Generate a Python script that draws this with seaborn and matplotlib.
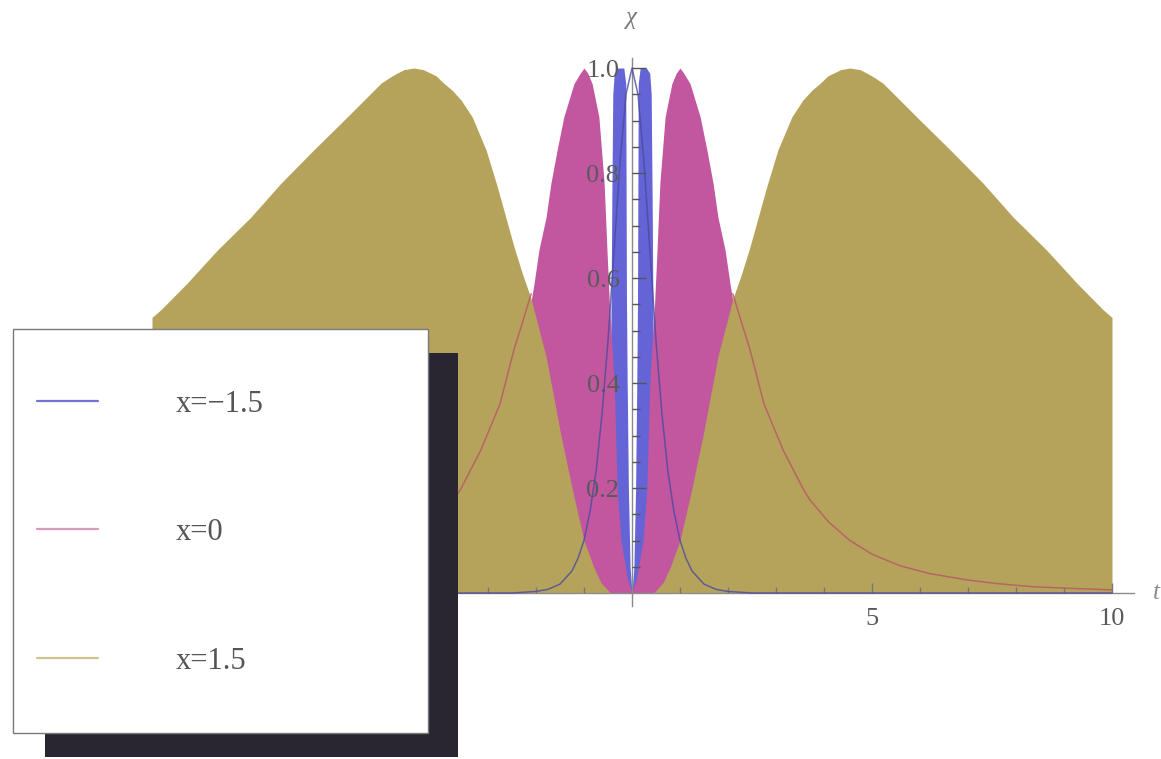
import numpy as np
import pandas as pd
import matplotlib
matplotlib.use("Agg")
import matplotlib.pyplot as plt
from matplotlib.lines import Line2D
from matplotlib.patches import Rectangle
from matplotlib.ticker import FixedLocator
import seaborn as sns

# ---- data: profiles are symmetric in t, listed for t >= 0 ----
# x = 1.5 (olive) filled envelope
olive_t = [0.0, 0.45, 0.65, 0.8, 1.0, 1.25, 1.48, 1.79, 2.1, 2.29, 2.46, 2.63, 2.81,
           3.04, 3.33, 3.56, 3.75, 3.92, 4.08, 4.19, 4.35, 4.54, 4.75, 4.9, 5.05,
           5.23, 5.93, 6.63, 7.31, 7.94, 8.64, 9.27, 9.81, 10.0]
olive_env = [0.0, 0.0, 0.02, 0.05, 0.1, 0.2, 0.3, 0.45, 0.56, 0.61, 0.66, 0.716, 0.775,
             0.844, 0.907, 0.939, 0.958, 0.971, 0.985, 0.99, 0.997, 1.0, 0.997, 0.99, 0.982,
             0.971, 0.907, 0.844, 0.781, 0.716, 0.653, 0.59, 0.54, 0.525]

# x = 0 (pink) filled envelope
pink_t = [0.0, 0.1, 0.23, 0.31, 0.37, 0.47, 0.52, 0.58, 0.69, 0.83, 0.92, 1.0, 1.08,
          1.21, 1.42, 1.56, 1.69, 1.79, 1.94, 2.04, 2.15, 2.5, 3.0, 4.0, 5.0, 7.0, 10.0]
pink_env = [0.0, 0.03, 0.1, 0.2, 0.4, 0.55, 0.65, 0.78, 0.907, 0.97, 0.99, 1.0, 0.99,
            0.97, 0.907, 0.844, 0.78, 0.716, 0.653, 0.59, 0.53, 0.4, 0.25, 0.1, 0.04, 0.01, 0.0]

# x = -1.5 (blue) filled envelope
blue_t = [0.0, 0.04, 0.075, 0.1, 0.115, 0.13, 0.17, 0.3, 0.37, 0.4, 0.42, 0.44,
          0.5, 0.6, 0.8, 10.0]
blue_env = [0.0, 0.05, 0.2, 0.4, 0.56, 0.97, 1.0, 1.0, 0.99, 0.95, 0.75, 0.5,
            0.3, 0.1, 0.0, 0.0]

# thin profile curves
blue_line_t = [0.0, 0.125, 0.25, 0.375, 0.5, 0.625, 0.75, 0.875, 1.0, 1.125, 1.25,
               1.5, 1.75, 2.0, 2.5, 3.0, 10.0]
blue_line = [1.0, 0.95, 0.82, 0.65, 0.48, 0.34, 0.23, 0.155, 0.10, 0.066, 0.042,
             0.017, 0.007, 0.003, 0.0, 0.0, 0.0]
pink_line_t = [2.1, 2.3, 2.46, 2.75, 3.15, 3.58, 3.71, 4.1, 4.54, 5.0, 5.58, 6.2,
               6.98, 7.6, 8.35, 9.1, 10.0]
pink_line = [0.57, 0.51, 0.463, 0.36, 0.272, 0.196, 0.177, 0.135, 0.10, 0.074, 0.052,
             0.037, 0.025, 0.018, 0.012, 0.009, 0.006]

labels = ["x=\u22121.5", "x=0", "x=1.5"]
x_major = [-10, -5, 5, 10]
x_major_labels = ["\u221210", "\u22125", "5", "10"]
y_major = [0.2, 0.4, 0.6, 0.8, 1.0]
y_major_labels = ["0.2", "0.4", "0.6", "0.8", "1.0"]


def mirrored(t, v):
    t = np.asarray(t, float)
    v = np.asarray(v, float)
    return np.concatenate([-t[::-1], t[1:]]), np.concatenate([v[::-1], v[1:]])


sns.set_theme(style="white")
plt.rcParams["font.family"] = ["Liberation Serif", "DejaVu Serif"]

fig = plt.figure(figsize=(11.61, 7.59), dpi=100)
ax = fig.add_axes([0.1123, 0.2014, 0.8641, 0.7228])
ax.set_xlim(-10.45, 10.45)
ax.set_ylim(-0.025, 1.02)
ax.set_axisbelow(False)

fill_cols = {"blue": "#6464D6", "pink": "#C2569F", "olive": "#B5A35B"}
for key, (t, e) in [("blue", (blue_t, blue_env)),
                    ("pink", (pink_t, pink_env)),
                    ("olive", (olive_t, olive_env))]:
    tt, ee = mirrored(t, e)
    ax.fill_between(tt, 0, ee, color=fill_cols[key], lw=0, zorder=1)

# thin curves drawn over the filled regions
bt, bv = mirrored(blue_line_t, blue_line)
blue_df = pd.DataFrame({"t": bt, "chi": bv})
pt = np.asarray(pink_line_t, float)
pv = np.asarray(pink_line, float)
pink_df = pd.DataFrame({"t": np.concatenate([-pt, pt]),
                        "chi": np.concatenate([pv, pv]),
                        "side": ["left"] * len(pt) + ["right"] * len(pt)})
sns.lineplot(data=blue_df, x="t", y="chi", ax=ax, color="#4A4AA0", lw=1.1,
             alpha=0.8, legend=False, zorder=3)
sns.lineplot(data=pink_df, x="t", y="chi", units="side", estimator=None, ax=ax,
             color="#B85A66", lw=1.1, alpha=0.85, legend=False, zorder=3)
ax.set_xlabel("")
ax.set_ylabel("")

# axes through the origin
for s in ["top", "right"]:
    ax.spines[s].set_visible(False)
ax.spines["left"].set_position(("data", 0))
ax.spines["bottom"].set_position(("data", 0))
for s in ["left", "bottom"]:
    ax.spines[s].set_color("#8a8a8a")
    ax.spines[s].set_linewidth(1.0)

ax.xaxis.set_major_locator(FixedLocator(x_major))
ax.set_xticklabels(x_major_labels)
ax.xaxis.set_minor_locator(FixedLocator([v for v in range(-10, 11) if v % 5 != 0]))
ax.yaxis.set_major_locator(FixedLocator(y_major))
ax.set_yticklabels(y_major_labels)
ax.yaxis.set_minor_locator(FixedLocator([round(0.05 * k, 2) for k in range(1, 21) if k % 4 != 0]))

ax.tick_params(axis="x", which="major", direction="in", length=7, width=1,
               color="#777777", pad=11, labelsize=19, labelcolor="#5a5a5a")
ax.tick_params(axis="x", which="minor", direction="in", length=4.5, width=1, color="#777777")
ax.tick_params(axis="y", which="major", direction="in", length=10, width=1,
               color="#555555", pad=9, labelsize=19, labelcolor="#5a5a5a")
ax.tick_params(axis="y", which="minor", direction="in", length=6, width=1, color="#555555")
ax.tick_params(left=True, bottom=True, which="both")

ax.text(0, 1.095, "\u03c7", ha="center", va="center", fontsize=18,
        style="italic", color="#7a7a7a", clip_on=False)
ax.text(11.0, 0.0, "t", ha="right", va="center", fontsize=18,
        style="italic", color="#8a8a8a", clip_on=False)

# legend panel with a drop shadow
W, H = 1161.0, 759.0
shadow = Rectangle((45 / W, 1 - 757 / H), 413 / W, 404 / H, transform=fig.transFigure,
                   facecolor="#2a2631", edgecolor="none", zorder=9)
panel = Rectangle((13 / W, 1 - 733 / H), 415 / W, 404 / H, transform=fig.transFigure,
                  facecolor="white", edgecolor="#7a7a7a", lw=1.0, zorder=10)
fig.add_artist(shadow)
fig.add_artist(panel)

handles = [Line2D([], [], color="#7373D6", lw=1.6),
           Line2D([], [], color="#D99AC0", lw=1.6),
           Line2D([], [], color="#CEC38E", lw=1.6)]
fs = 22
fpx = fs * 100 / 72.0
leg = fig.legend(handles, labels, loc="upper left",
                 bbox_to_anchor=(37 / W, 1 - (403 - 0.44 * fpx) / H), frameon=False,
                 fontsize=fs, handlelength=61 / fpx, handletextpad=78 / fpx,
                 labelspacing=(127.5 - 0.915 * fpx) / fpx, borderpad=0, borderaxespad=0,
                 labelcolor="#555555")
leg.set_zorder(11)

fig.savefig("out.png", dpi=100, facecolor="white")
